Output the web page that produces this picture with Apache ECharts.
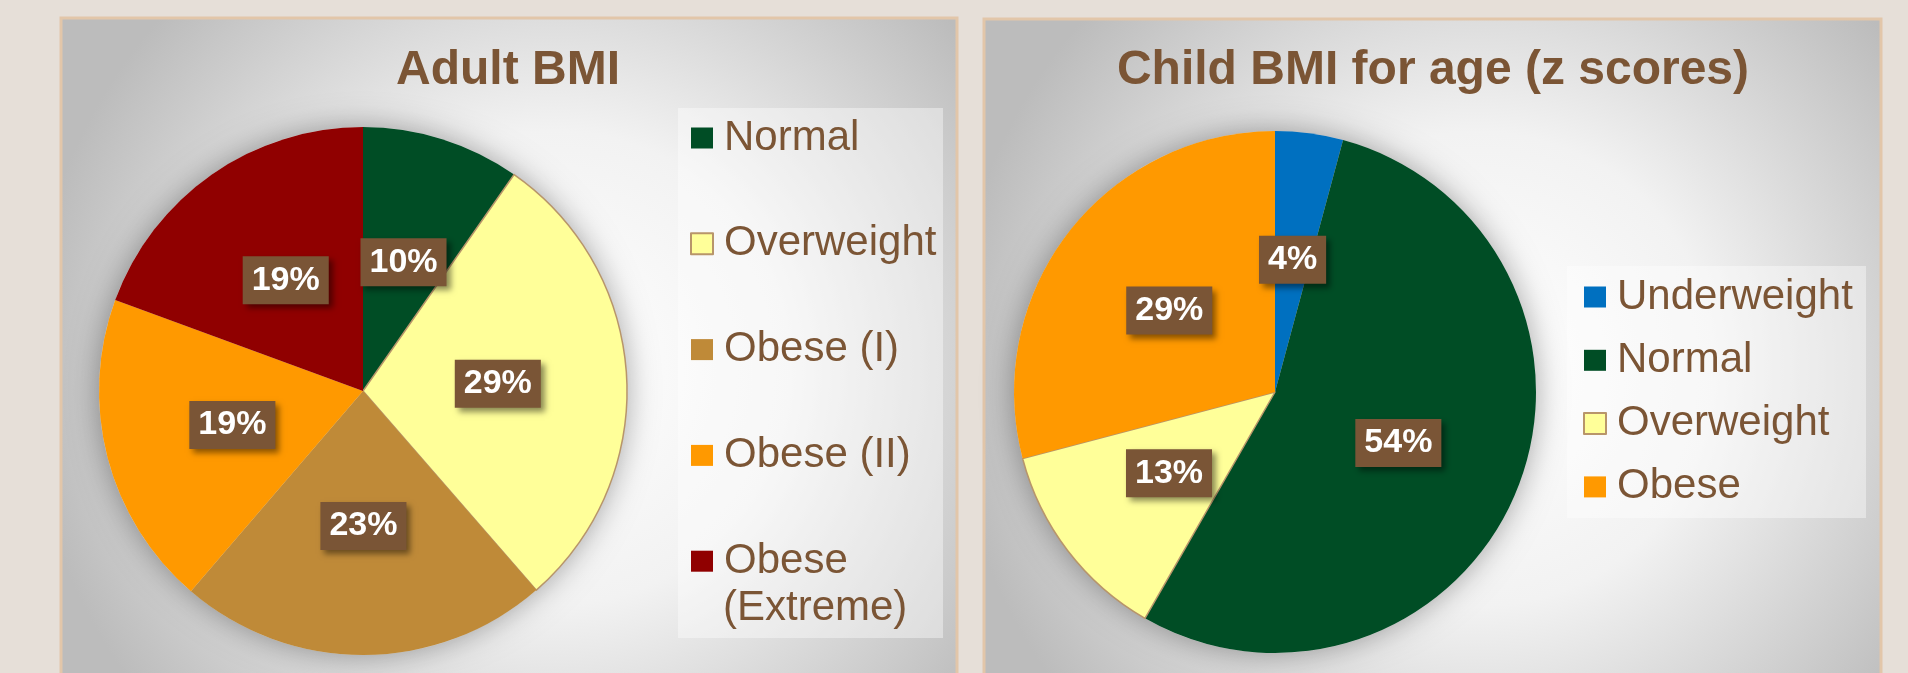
<!DOCTYPE html>
<html>
<head>
<meta charset="utf-8">
<title>BMI pies</title>
<script src="https://cdn.jsdelivr.net/npm/echarts@6/dist/echarts.min.js"></script>
<style>
html, body { margin: 0; padding: 0; background: #e6dfd8; }
#main { width: 1908px; height: 673px; }
</style>
</head>
<body>
<div id="main"></div>
<script>
// adult BMI shares (labels are rounded)
var adultNames = ['Normal', 'Overweight', 'Obese (I)', 'Obese (II)', 'Obese (Extreme)'];
var adultValues = [9.7, 28.9, 22.7, 19.3, 19.4];
// child BMI for age (z scores)
var childNames = ['Underweight', 'Normal', 'Overweight', 'Obese'];
var childValues = [4.2, 54.1, 12.6, 29.1];

var colorMap = {
	'Underweight': '#0070c0',
	'Normal': '#004d25',
	'Overweight': '#ffff99',
	'Obese (I)': '#bf8a38',
	'Obese (II)': '#ff9900',
	'Obese': '#ff9900',
	'Obese (Extreme)': '#900000'
};
var brown = '#7b5535';
var font = 'Liberation Sans, Arial, sans-serif';

function buildData(names, values) {
	return names.map(function (n, i) {
		var item = { name: n, value: values[i], itemStyle: { color: colorMap[n] } };
		if (n === 'Overweight') {
			item.itemStyle.borderColor = '#b8956a';
			item.itemStyle.borderWidth = 1.5;
		}
		return item;
	});
}

function panelFill() {
	return new echarts.graphic.RadialGradient(0.55, 0.5, 0.75, [
		{ offset: 0, color: '#ffffff' },
		{ offset: 0.45, color: '#f2f2f2' },
		{ offset: 1, color: '#bcbcbc' }
	]);
}

var labelStyle = {
	show: true,
	position: 'inside',
	formatter: '{d}%',
	color: '#ffffff',
	fontSize: 34,
	fontWeight: 'bold',
	fontFamily: font,
	backgroundColor: '#7a5536',
	padding: [7, 9],
	shadowBlur: 6,
	shadowOffsetX: 4,
	shadowOffsetY: 4,
	shadowColor: 'rgba(0,0,0,0.45)'
};

var legendText = {
	fontSize: 42,
	lineHeight: 44,
	color: brown,
	fontFamily: font,
	padding: [0, 0, 0, 6]
};

function shadowPie(center, radius) {
	return {
		type: 'pie',
		silent: true,
		z: 1,
		center: center,
		radius: radius,
		label: { show: false },
		labelLine: { show: false },
		itemStyle: { color: '#d6d6d6', shadowBlur: 30, shadowColor: 'rgba(0,0,0,0.35)' },
		data: [{ value: 1, name: '' }]
	};
}

var myChart = echarts.init(document.getElementById('main'));
var option = {
	backgroundColor: '#e6dfd8',
	animation: false,
	graphic: [
		{ type: 'rect', shape: { x: 61, y: 18, width: 896, height: 700 },
			style: { fill: panelFill(), stroke: '#e2c6a9', lineWidth: 3 } },
		{ type: 'rect', shape: { x: 984, y: 19, width: 897, height: 700 },
			style: { fill: panelFill(), stroke: '#e2c6a9', lineWidth: 3 } },
		{ type: 'rect', shape: { x: 678, y: 108, width: 265, height: 530 },
			style: { fill: 'rgba(255,255,255,0.4)' } },
		{ type: 'rect', shape: { x: 1567, y: 266, width: 299, height: 252 },
			style: { fill: 'rgba(255,255,255,0.4)' } }
	],
	title: [{
		text: 'Adult BMI',
		left: 508,
		top: 47,
		padding: 0,
		textAlign: 'center',
		textStyle: { fontSize: 48, fontWeight: 'bold', color: brown, fontFamily: font }
	}, {
		text: 'Child BMI for age (z scores)',
		left: 1433,
		top: 47,
		padding: 0,
		textAlign: 'center',
		textStyle: { fontSize: 48, fontWeight: 'bold', color: brown, fontFamily: font }
	}],
	legend: [{
		// adult legend, the long name wraps so only "Obese" sits next to the box
		orient: 'vertical',
		left: 690,
		top: 116,
		padding: 0,
		itemGap: 61.8,
		itemWidth: 22,
		itemHeight: 21,
		icon: 'rect',
		selectedMode: false,
		data: adultNames,
		formatter: function (name) {
			return name === 'Obese (Extreme)' ? 'Obese' : name;
		},
		textStyle: legendText
	}, {
		// second line of the wrapped legend entry
		orient: 'vertical',
		left: 690,
		top: 586,
		padding: 0,
		itemWidth: 22,
		itemHeight: 21,
		icon: 'rect',
		selectedMode: false,
		data: ['Obese (Extreme)'],
		formatter: function () { return '(Extreme)'; },
		itemStyle: { color: 'rgba(0,0,0,0)', borderWidth: 0 },
		textStyle: legendText
	}, {
		orient: 'vertical',
		left: 1583,
		top: 275,
		padding: 0,
		itemGap: 19.3,
		itemWidth: 22,
		itemHeight: 21,
		icon: 'rect',
		selectedMode: false,
		data: childNames,
		textStyle: legendText
	}],
	series: [
		shadowPie([363, 391], 264),
		shadowPie([1275, 392], 261),
		{
			name: 'Adult BMI',
			type: 'pie',
			z: 2,
			center: [363, 391],
			radius: 264,
			startAngle: 90,
			clockwise: true,
			percentPrecision: 0,
			label: labelStyle,
			labelLine: { show: false },
			emphasis: { disabled: true },
			data: buildData(adultNames, adultValues)
		},
		{
			name: 'Child BMI for age (z scores)',
			type: 'pie',
			z: 2,
			center: [1275, 392],
			radius: 261,
			startAngle: 90,
			clockwise: true,
			percentPrecision: 0,
			label: labelStyle,
			labelLine: { show: false },
			emphasis: { disabled: true },
			data: buildData(childNames, childValues)
		}
	]
};
myChart.setOption(option);
</script>
</body>
</html>
